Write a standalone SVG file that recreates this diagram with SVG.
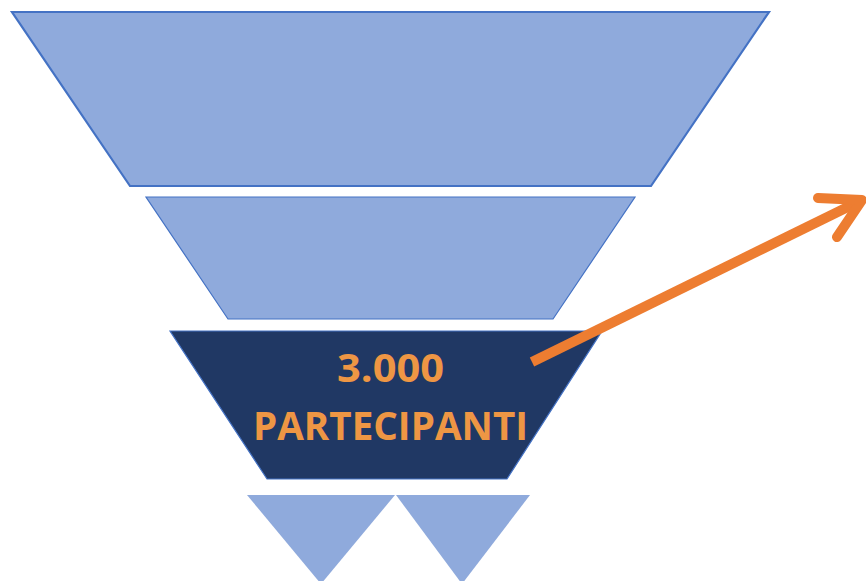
<svg xmlns="http://www.w3.org/2000/svg" width="866" height="581" viewBox="0 0 866 581">
<style>
.light{fill:#8FAADC;stroke:#4472C4;stroke-width:1.2;stroke-linejoin:miter}
.thick{stroke-width:2.2}
.dark{fill:#203864;stroke:#4472C4;stroke-width:1.2}
.tri{fill:#8FAADC;stroke:none}
.lbl{font-family:"Open Sans","Noto Sans",sans-serif;font-weight:bold;font-size:40px;fill:#EE9644;text-anchor:middle}
.arr{fill:none;stroke:#ED7D31;stroke-width:10}
</style>
<rect width="866" height="581" fill="#FFFFFF"/>
<g id="level1"><polygon class="light thick" points="12,12 769,12 651,186 130,186"/></g>
<g id="level2"><polygon class="light" points="146,197 635,197 553,319 228,319"/></g>
<g id="level3">
<polygon class="dark" points="170,331 602,331 507,479 267,479"/>
<text class="lbl" x="390.5" y="382" textLength="107" lengthAdjust="spacingAndGlyphs">3.000</text>
<text class="lbl" x="390.5" y="440" textLength="275" lengthAdjust="spacingAndGlyphs">PARTECIPANTI</text>
</g>
<g id="level4a"><polygon class="tri" points="247,495 395,495 321,584"/></g>
<g id="level4b"><polygon class="tri" points="396,495 530,495 462,584"/></g>
<g id="connectors">
<line class="arr" x1="532" y1="362" x2="858" y2="202" stroke-linecap="butt"/>
<polyline class="arr" points="818,198 862,200 837,237" stroke-linecap="round" stroke-linejoin="round"/>
</g>
</svg>
